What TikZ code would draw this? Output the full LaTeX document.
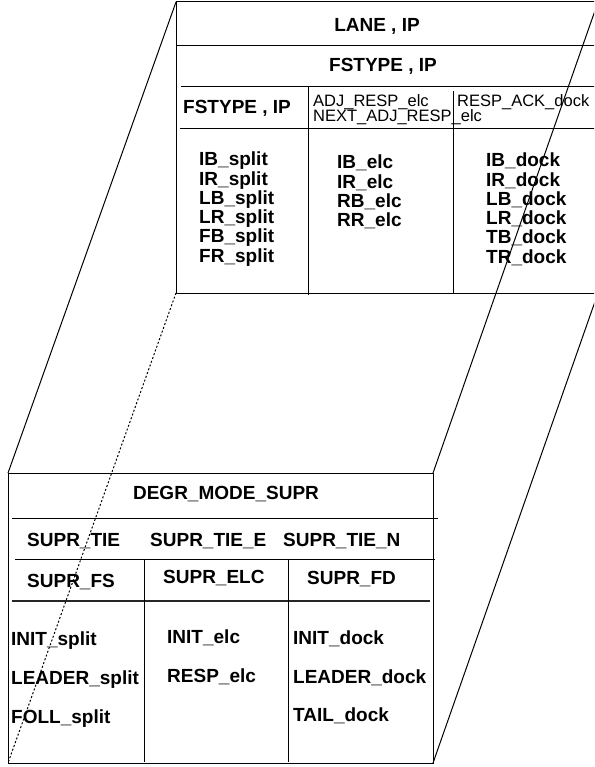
\documentclass[tikz,border=0pt]{standalone}
\usepackage{fontspec}
\setmainfont{Liberation Sans}
\begin{document}
\begin{tikzpicture}[x=1pt,y=-1pt,
  bt/.style={font={\fontsize{19}{19}\selectfont\bfseries}, inner sep=0pt, anchor=base west},
  rt/.style={font={\fontsize{16.5}{16.5}\selectfont}, inner sep=0pt, anchor=base west},
  ln/.style={line width=1pt},
  dotln/.style={line width=1pt, dash pattern=on 2pt off 2pt}]
\useasboundingbox (0,0) rectangle (594,767);
\clip (0,0) rectangle (594,767);
% corners of back (top) face and front (bottom) face
\coordinate (bTL) at (176,2);
\coordinate (bTR) at (598,2);
\coordinate (bBL) at (176,293);
\coordinate (bBR) at (598,293);
\coordinate (fTL) at (8,473);
\coordinate (fTR) at (433,473);
\coordinate (fBL) at (8,763);
\coordinate (fBR) at (433,763);
% back face table
\draw[ln] (bTL) rectangle (bBR);
\draw[ln] (177,46) -- (598,46);
\draw[ln] (181,87) -- (598,87);
\draw[ln] (180,129) -- (598,129);
\draw[ln] (308,87) -- (308,295);
\draw[ln] (453,91) -- (453,293);
% front face table
\draw[ln] (fTL) rectangle (fBR);
\draw[ln] (12,518) -- (438,518);
\draw[ln] (15,559) -- (435,559);
\draw[line width=1.4pt, black!85] (12,601) -- (430,601);
\draw[ln] (144,560) -- (144,762);
\draw[ln] (288,560) -- (288,762);
% perspective connectors
\draw[ln] (bTL) -- (fTL);
\draw[ln] (bTR) -- (fTR);
\draw[ln] (bBR) -- (fBR);
\draw[dotln] (bBL) -- (fBL);
% back face texts
\node[bt,anchor=base] (lane) at (377,32) {LANE , IP};
\node[bt,anchor=base] (fst1) at (383,72) {FSTYPE , IP};
\node[bt] (fst2) at (183,114) {FSTYPE , IP};
\node[rt] (adj) at (313,107) {ADJ\_RESP\_elc};
\node[rt] (nadj) at (313,122) {NEXT\_ADJ\_RESP\_elc};
\node[rt] (rack) at (457,107) {RESP\_ACK\_dock};
\foreach \t [count=\i] in {IB,IR,LB,LR,FB,FR}
  \node[bt] (sp\i) at (199,{166+19.2*(\i-1)}) {\t\_split};
\foreach \t [count=\i] in {IB,IR,RB,RR}
  \node[bt] (el\i) at (337,{169+19.3*(\i-1)}) {\t\_elc};
\foreach \t [count=\i] in {IB,IR,LB,LR,TB,TR}
  \node[bt] (dk\i) at (486,{167+19.2*(\i-1)}) {\t\_dock};
% front face texts
\node[bt,anchor=base] (degr) at (226,499) {DEGR\_MODE\_SUPR};
\node[bt] (tie) at (27,546) {SUPR\_TIE};
\node[bt] (tiee) at (150,546) {SUPR\_TIE\_E};
\node[bt] (tien) at (283,546) {SUPR\_TIE\_N};
\node[bt] (fs) at (27,587) {SUPR\_FS};
\node[bt] (elc) at (163,583) {SUPR\_ELC};
\node[bt] (fd) at (307,584) {SUPR\_FD};
\node[bt] (inits) at (11,645) {INIT\_split};
\node[bt] (leads) at (11,684) {LEADER\_split};
\node[bt] (folls) at (11,723) {FOLL\_split};
\node[bt] (inite) at (167,643) {INIT\_elc};
\node[bt] (respe) at (167,682) {RESP\_elc};
\node[bt] (initd) at (293,644) {INIT\_dock};
\node[bt] (leadd) at (293,683) {LEADER\_dock};
\node[bt] (taild) at (293,721) {TAIL\_dock};
\end{tikzpicture}
\end{document}
